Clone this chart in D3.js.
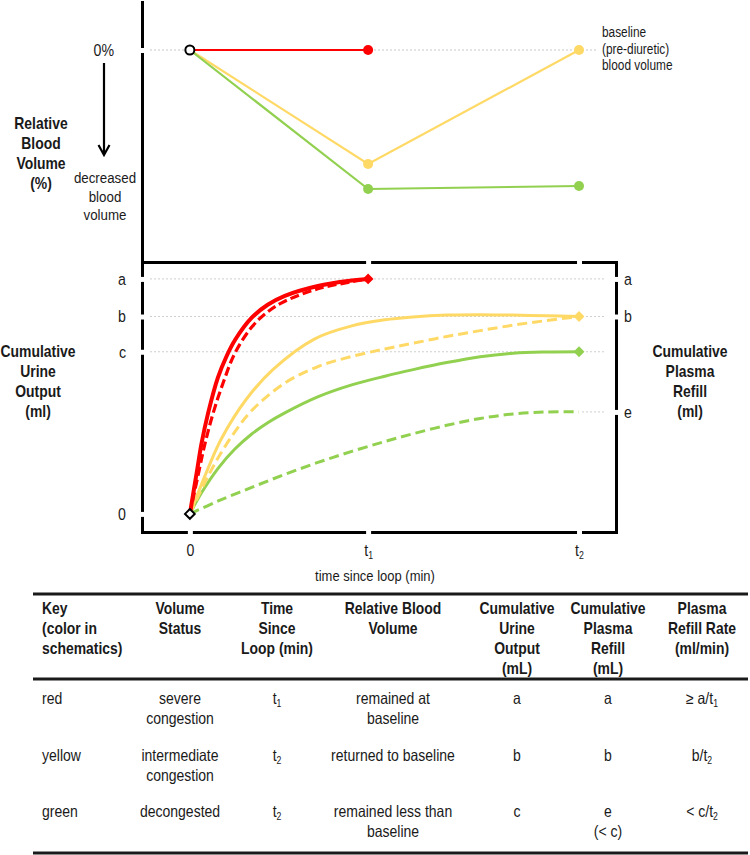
<!DOCTYPE html>
<html>
<head>
<meta charset="utf-8">
<script src="https://cdn.jsdelivr.net/npm/d3@7"></script>
<style>
  body { margin: 0; background: #fff; }
  svg { display: block; font-family: "Liberation Sans", Arial, sans-serif; }
  text { fill: #1a1a1a; }
</style>
</head>
<body>
<svg id="chart" width="750" height="855"></svg>
<script>
// ---- data ----
// time axis: t2 = 100, t1 ~ 45.8 (relative units)
const timeTicks = [0, 45.8, 100];
const timeLabels = ["0", "t_1", "t_2"];

// top panel: relative blood volume (% change from baseline)
const rbvTime = [0, 45.8, 100];
const rbvRed = [0, 0];
const rbvYellow = [0, -5.7, 0];
const rbvGreen = [0, -6.95, -6.8];

// bottom panel: cumulative volumes (a = 100)
const volTicks = [0, 69, 84, 100];
const volLabels = ["0", "c", "b", "a"];
const refillTicks = [43.4, 84, 100];
const refillLabels = ["e", "b", "a"];

// [time, volume]
const redUrine = [[0,0],[1.9,19],[3.0,30],[4.7,43],[7.2,58],[9.4,67],[11.6,74],[15.9,83.5],[20,89],[24.4,92.8],[32.9,97],[41.6,99.3],[45.8,100]];
const redRefill = [[0,0],[2.4,18.7],[3.9,30],[6.0,43],[8.6,56],[11.6,68.5],[15.9,79.5],[20,86],[24.4,90.5],[32.9,95.8],[41.6,98.8],[45.8,100]];
const yellowUrine = [[0,0],[4.7,19.5],[8.1,32],[14.6,49],[21.4,61.5],[32.1,74.5],[41.6,80],[50.1,82.6],[57.3,83.8],[66.0,84.6],[74.6,84.8],[83.0,84.6],[91.7,84.3],[100,84]];
const yellowRefill = [[0,0],[3.9,13.5],[7.3,24],[11.6,35],[15.9,44],[24.4,55.7],[32.9,62.7],[41.6,67],[50.1,70.2],[57.3,72.6],[66.0,75.5],[74.6,78],[83.0,80.3],[91.7,82.3],[100,84]];
const greenUrine = [[0,0],[3.0,9.0],[7.3,19.5],[11.5,27.5],[15.9,34.0],[20,38.8],[24.4,43],[33.0,49.9],[41.6,54.9],[50.1,58.6],[57.4,61.4],[66.0,64.4],[74.6,66.9],[83.1,68.4],[91.7,68.9],[100,69]];
const greenRefill = [[0,0],[7.3,5.5],[15.9,11.3],[24.4,16.8],[32.9,21.9],[41.6,26.6],[50.1,30.8],[57.3,34.1],[66.0,37.7],[74.6,40.6],[83.0,42.5],[91.7,43.4],[100,43.4]];

// table
const tableHeaders = [
  ["Key", "(color in", "schematics)"],
  ["Volume", "Status"],
  ["Time", "Since", "Loop (min)"],
  ["Relative Blood", "Volume"],
  ["Cumulative", "Urine", "Output", "(mL)"],
  ["Cumulative", "Plasma", "Refill", "(mL)"],
  ["Plasma", "Refill Rate", "(ml/min)"]
];
const tableRows = [
  [["red"], ["severe", "congestion"], ["t_1"], ["remained at", "baseline"], ["a"], ["a"], ["≥ a/t_1"]],
  [["yellow"], ["intermediate", "congestion"], ["t_2"], ["returned to baseline"], ["b"], ["b"], ["b/t_2"]],
  [["green"], ["decongested"], ["t_2"], ["remained less than", "baseline"], ["c"], ["e", "(< c)"], ["< c/t_2"]]
];

const RED = "#ff0000", YELLOW = "#ffd966", GREEN = "#92d050";
const SX = 0.86; // squeeze text horizontally (narrow face look)

// ---- helpers ----
function rich(sel, str) {
  sel.each(function () {
    const t = d3.select(this);
    const parts = String(str).split(/_(\d)/);
    t.text(null);
    parts.forEach((p, i) => {
      if (p === "") return;
      if (i % 2 === 1) {
        t.append("tspan").attr("font-size", "0.62em").attr("dy", "0.3em").text(p);
        t.append("tspan").attr("dy", "-0.3em").text("");
      } else {
        t.append("tspan").text(p);
      }
    });
  });
}

function lines(g, x, y0, step, arr, opts) {
  arr.forEach((s, i) => {
    const t = g.append("text")
      .attr("transform", `translate(${x},${y0 + i * step}) scale(${SX},1)`)
      .attr("text-anchor", opts.anchor || "middle")
      .attr("font-size", opts.size || 15.5)
      .attr("font-weight", opts.bold ? "bold" : "normal");
    rich(t, s);
  });
}

function gapTicks(g, vertical) {
  g.select(".domain").attr("stroke", "#000").attr("stroke-width", 3).attr("stroke-linecap", "square");
  g.selectAll(".tick line")
    .attr("stroke", "#fff").attr("stroke-width", 5)
    .attr(vertical ? "x1" : "y1", -4).attr(vertical ? "x2" : "y2", 4);
  g.selectAll(".tick text")
    .attr("fill", "#1a1a1a").attr("font-size", 16.5)
    .attr("font-family", "Liberation Sans, Arial, sans-serif")
    .each(function () {
      const t = d3.select(this);
      const xo = +t.attr("x") || 0;
      t.attr("x", 0).attr("transform", `translate(${xo},0) scale(${SX},1)`);
    });
}

const svg = d3.select("#chart");

// ---- scales ----
const x = d3.scaleLinear().domain([-12.3, 109.5]).range([142, 616]);
const yTop = d3.scaleLinear().domain([2.4, -10.6]).range([2, 262]);
const yBot = d3.scaleLinear().domain([-7.7, 107.2]).range([532, 262]);

// ---- top panel ----
const topG = svg.append("g");

topG.append("line")
  .attr("x1", 150).attr("x2", 596)
  .attr("y1", yTop(0)).attr("y2", yTop(0))
  .attr("stroke", "#c8c8c8").attr("stroke-dasharray", "2,2");

const topAxis = topG.append("g").attr("transform", "translate(142,0)")
  .call(d3.axisLeft(yTop).tickValues([0]).tickFormat(() => "0%").tickSizeOuter(0).tickSizeInner(0).tickPadding(28));
gapTicks(topAxis, true);

const topLine = d3.line().x((d, i) => x(rbvTime[i])).y(d => yTop(d));
[[rbvYellow, YELLOW], [rbvGreen, GREEN], [rbvRed, RED]].forEach(([s, c]) => {
  topG.append("path").attr("d", topLine(s)).attr("fill", "none").attr("stroke", c).attr("stroke-width", 2.2);
  topG.selectAll(null).data(s.slice(1)).enter().append("circle")
    .attr("cx", (d, i) => x(rbvTime[i + 1])).attr("cy", d => yTop(d))
    .attr("r", 5).attr("fill", c);
});
topG.append("circle").attr("cx", x(0)).attr("cy", yTop(0)).attr("r", 4.5)
  .attr("fill", "#fff").attr("stroke", "#000").attr("stroke-width", 2);

// annotations
lines(topG, 41, 129, 20, ["Relative", "Blood", "Volume", "(%)"], { bold: true, size: 16.2 });
lines(topG, 105, 183, 18.5, ["decreased", "blood", "volume"], { size: 15.5 });
lines(topG, 602, 37, 16.5, ["baseline", "(pre-diuretic)", "blood volume"], { size: 13.8, anchor: "start" });
topG.append("path").attr("d", "M104,63 V154 M98.5,145 L104,155 L109.5,145")
  .attr("fill", "none").attr("stroke", "#000").attr("stroke-width", 2.2);

// ---- bottom panel ----
const bot = svg.append("g");

volTicks.filter(d => d > 0).forEach(v => {
  bot.append("line").attr("x1", 150).attr("x2", 606).attr("y1", yBot(v)).attr("y2", yBot(v))
    .attr("stroke", "#cfcfcf").attr("stroke-dasharray", "2,2");
});
bot.append("line").attr("x1", x(100) + 3).attr("x2", 606).attr("y1", yBot(refillTicks[0])).attr("y2", yBot(refillTicks[0]))
  .attr("stroke", "#cfcfcf").attr("stroke-dasharray", "2,2");

const axL = bot.append("g").attr("transform", "translate(142,0)")
  .call(d3.axisLeft(yBot).tickValues(volTicks).tickFormat((d, i) => volLabels[i]).tickSizeOuter(0).tickSizeInner(0).tickPadding(16));
gapTicks(axL, true);
const axR = bot.append("g").attr("transform", "translate(616,0)")
  .call(d3.axisRight(yBot).tickValues(refillTicks).tickFormat((d, i) => refillLabels[i]).tickSizeOuter(0).tickSizeInner(0).tickPadding(8));
gapTicks(axR, true);
const axB = bot.append("g").attr("transform", "translate(0,532)")
  .call(d3.axisBottom(x).tickValues(timeTicks).tickFormat((d, i) => timeLabels[i]).tickSizeOuter(0).tickSizeInner(0).tickPadding(12));
gapTicks(axB, false);
axB.selectAll(".tick text").each(function (d, i) { rich(d3.select(this), timeLabels[i]); });
const axT = bot.append("g").attr("transform", "translate(0,262)")
  .call(d3.axisTop(x).tickValues(timeTicks.slice(1)).tickFormat("").tickSizeOuter(0).tickSizeInner(0));
gapTicks(axT, false);

const curve = d3.line().x(d => x(d[0])).y(d => yBot(d[1])).curve(d3.curveCatmullRom.alpha(0.5));
const series = [
  [greenRefill, GREEN, 3, "10,5"],
  [greenUrine, GREEN, 3, null],
  [yellowRefill, YELLOW, 3, "10,5"],
  [yellowUrine, YELLOW, 3, null],
  [redRefill, RED, 3.2, "9,4"],
  [redUrine, RED, 4, null]
];
series.forEach(([s, c, w, dash]) => {
  bot.append("path").attr("d", curve(s)).attr("fill", "none")
    .attr("stroke", c).attr("stroke-width", w).attr("stroke-dasharray", dash);
});

const diamond = d3.symbol().type(d3.symbolDiamond2).size(75);
[[redRefill, RED], [yellowRefill, YELLOW], [greenUrine, GREEN]].forEach(([s, c]) => {
  const p = s[s.length - 1];
  bot.append("path").attr("d", diamond())
    .attr("transform", `translate(${x(p[0])},${yBot(p[1])})`).attr("fill", c);
});
bot.append("path").attr("d", d3.symbol().type(d3.symbolDiamond2).size(60)())
  .attr("transform", `translate(${x(0)},${yBot(0)})`)
  .attr("fill", "#fff").attr("stroke", "#000").attr("stroke-width", 2);

lines(bot, 38, 357, 20, ["Cumulative", "Urine", "Output", "(ml)"], { bold: true, size: 16.2 });
lines(bot, 690, 357, 20, ["Cumulative", "Plasma", "Refill", "(ml)"], { bold: true, size: 16.2 });
lines(bot, 375, 581, 0, ["time since loop (min)"], { size: 15.1 });

// ---- table ----
const tab = svg.append("g");
const colX = [42, 180, 277, 393, 517, 608, 702];
const rowY = [704, 761, 817];
[594, 679, 853].forEach(y => {
  tab.append("line").attr("x1", 33).attr("x2", 748).attr("y1", y).attr("y2", y)
    .attr("stroke", "#1a1a1a").attr("stroke-width", 3);
});
tableHeaders.forEach((h, j) => {
  lines(tab, colX[j], 614, 20, h, { bold: true, size: 16.2, anchor: j === 0 ? "start" : "middle" });
});
tableRows.forEach((r, i) => {
  r.forEach((cell, j) => {
    lines(tab, colX[j], rowY[i], 20, cell, { size: 16.3, anchor: j === 0 ? "start" : "middle" });
  });
});
</script>
</body>
</html>
